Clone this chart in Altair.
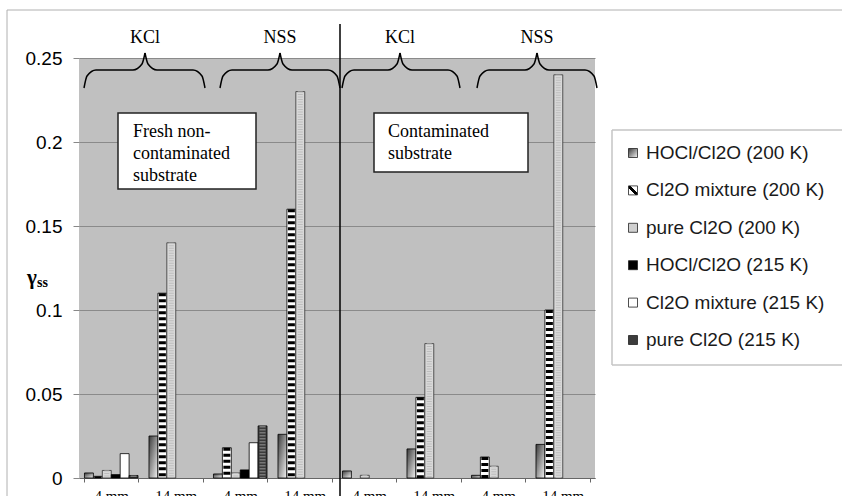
import altair as alt
import pandas as pd

# ---------------- data ----------------
categories = ["KCl fresh|4 mm", "KCl fresh|14 mm", "NSS fresh|4 mm", "NSS fresh|14 mm",
              "KCl contam|4 mm", "KCl contam|14 mm", "NSS contam|4 mm", "NSS contam|14 mm"]
series_names = ["HOCl/Cl2O (200 K)", "Cl2O mixture (200 K)", "pure Cl2O (200 K)",
                "HOCl/Cl2O (215 K)", "Cl2O mixture (215 K)", "pure Cl2O (215 K)"]
hocl_200 = [0.003, 0.025, 0.0024, 0.026, 0.0042, 0.0173, 0.0016, 0.020]
mix_200 = [0.001, 0.110, 0.018, 0.160, None, 0.048, 0.0125, 0.100]
pure_200 = [0.0045, 0.140, 0.003, 0.230, 0.0016, 0.080, 0.007, 0.240]
hocl_215 = [0.002, None, 0.0048, None, None, None, None, None]
mix_215 = [0.0145, None, 0.021, None, None, None, None, None]
pure_215 = [0.0015, None, 0.031, None, None, None, None, None]
y_ticks = [0, 0.05, 0.1, 0.15, 0.2, 0.25]

series_values = [hocl_200, mix_200, pure_200, hocl_215, mix_215, pure_215]
rows = []
for s, vals in zip(series_names, series_values):
    for c, v in zip(categories, vals):
        if v is not None:
            rows.append({"cat": c, "series": s, "value": v})
df = pd.DataFrame(rows)
leg_df = pd.DataFrame({"series": series_names})
one = pd.DataFrame({"a": [0]})

SERIF = "Liberation Serif"
SANS = "Liberation Sans"

# ---------------- bars ----------------
xscale = alt.Scale(domain=categories, paddingInner=0.17, paddingOuter=0.085)
xaxis = alt.Axis(labelExpr="split(datum.value, '|')[1]", labelFont=SERIF, labelFontSize=15,
                 labelColor="black", labelPadding=6, labelAngle=0, tickBand="extent",
                 tickSize=4, tickColor="#666", domainColor="#666", domainWidth=1.2, grid=False)
yaxis = alt.Axis(values=y_ticks, format=".2~f", labelFont=SANS, labelFontSize=19,
                 labelColor="black", labelPadding=11, tickSize=6, tickColor="#888",
                 domain=False, grid=True, gridColor="#8a8a8a", gridWidth=1)
X = alt.X("cat:N", scale=xscale, axis=xaxis, title=None)
XO = alt.XOffset("series:N", scale=alt.Scale(domain=series_names, paddingInner=0, paddingOuter=0))
Y = alt.Y("value:Q", scale=alt.Scale(domain=[0, 0.25], nice=False), axis=yaxis, title=None)

grad_hocl = alt.Gradient(gradient="linear",
                         stops=[alt.GradientStop(color="#3a3a3a", offset=0),
                                alt.GradientStop(color="#f4f4f4", offset=1)],
                         x1=0, y1=0, x2=1, y2=1)


def series_chart(s):
    return alt.Chart(df).transform_filter(alt.datum.series == s)


bar_layers = [
    series_chart(series_names[0]).mark_bar(fill=grad_hocl, stroke="black", strokeWidth=0.8).encode(x=X, xOffset=XO, y=Y),
    series_chart(series_names[1]).mark_bar(fill="white", stroke="black", strokeWidth=0.8).encode(x=X, xOffset=XO, y=Y),
    series_chart(series_names[1]).mark_rule(stroke="black", strokeWidth=7, strokeDash=[3, 3]).encode(
        x=X, xOffset=XO, y=Y, y2=alt.datum(0)),
    series_chart(series_names[2]).mark_bar(fill="#d8d8d8", stroke="#333", strokeWidth=0.8).encode(x=X, xOffset=XO, y=Y),
    series_chart(series_names[2]).mark_rule(stroke="#bdbdbd", strokeWidth=5, strokeDash=[1, 1.5]).encode(
        x=X, xOffset=XO, y=Y, y2=alt.datum(0)),
    series_chart(series_names[3]).mark_bar(fill="black", stroke="black", strokeWidth=0.8).encode(x=X, xOffset=XO, y=Y),
    series_chart(series_names[4]).mark_bar(fill="white", stroke="black", strokeWidth=0.8).encode(x=X, xOffset=XO, y=Y),
    series_chart(series_names[5]).mark_bar(fill="#3c3c3c", stroke="black", strokeWidth=0.8).encode(x=X, xOffset=XO, y=Y),
    series_chart(series_names[5]).mark_rule(stroke="#777", strokeWidth=6, strokeDash=[1.5, 1.5]).encode(
        x=X, xOffset=XO, y=Y, y2=alt.datum(0)),
]
bars_group = alt.layer(*bar_layers)

# ---------------- legend ----------------
OX, OY = 79, 58  # plot origin in page pixels
LY = alt.Y("series:N", scale=alt.Scale(domain=series_names, range=[95, 282], padding=0), axis=None, title=None)
grad_mix_leg = alt.Gradient(gradient="linear",
                            stops=[alt.GradientStop(color="white", offset=0),
                                   alt.GradientStop(color="white", offset=0.38),
                                   alt.GradientStop(color="black", offset=0.38),
                                   alt.GradientStop(color="black", offset=0.62),
                                   alt.GradientStop(color="white", offset=0.62),
                                   alt.GradientStop(color="white", offset=1)],
                            x1=1, y1=0, x2=0, y2=1)
leg_fills = [grad_hocl, grad_mix_leg, "#d0d0d0", "black", "white", "#3c3c3c"]


def hline(x0, x1, y, **kw):
    return alt.Chart(one).mark_rule(**kw).encode(
        x=alt.value(x0 - OX), x2=alt.value(x1 - OX), y=alt.value(y - OY))


def vline(x, y0, y1, **kw):
    return alt.Chart(one).mark_rule(**kw).encode(
        x=alt.value(x - OX), y=alt.value(y0 - OY), y2=alt.value(y1 - OY))


def box(x0, y0, x1, y1, **kw):
    return alt.Chart(one).mark_rect(**kw).encode(
        x=alt.value(x0 - OX), x2=alt.value(x1 - OX), y=alt.value(y0 - OY), y2=alt.value(y1 - OY))


legend_layers = [
    box(612, 130, 842, 365, fill="white", strokeWidth=0),
    hline(612, 842, 130, stroke="#c4c4c4", strokeWidth=1.5),
    hline(612, 842, 365, stroke="#c4c4c4", strokeWidth=1.5),
    vline(612, 130, 365, stroke="#c4c4c4", strokeWidth=1.5),
]
for s, f in zip(series_names, leg_fills):
    legend_layers.append(
        alt.Chart(leg_df).transform_filter(alt.datum.series == s).mark_square(
            size=81, fill=f, filled=True, stroke="#222", strokeWidth=0.8, opacity=1).encode(
            x=alt.value(554), y=LY))
legend_layers.append(
    alt.Chart(leg_df).mark_text(align="left", baseline="middle", font=SANS, fontSize=19,
                                color="#1a1a1a").encode(x=alt.value(567), y=LY, text="series:N"))
legend_group = alt.layer(*legend_layers)

# ---------------- annotations ----------------
brace_spans = [(84, 145, 205), (220, 280, 340), (342, 400, 460), (477, 537, 597)]
brace_rows = []
for i, (x0, xm, x1) in enumerate(brace_spans):
    left = [(x0, 88), (x0 + 3, 76), (x0 + 12, 70), (xm - 12, 70), (xm - 3, 64), (xm, 53)]
    right = [(xm, 53), (xm + 3, 64), (xm + 12, 70), (x1 - 12, 70), (x1 - 3, 76), (x1, 88)]
    for half, pts in (("L", left), ("R", right)):
        for k, (px, py) in enumerate(pts):
            brace_rows.append({"grp": f"{i}{half}", "ord": k, "px": px - OX, "py": py - OY})
brace_df = pd.DataFrame(brace_rows)


def txt(t, x, y, **kw):
    return alt.Chart(one).mark_text(text=t, **kw).encode(x=alt.value(x - OX), y=alt.value(y - OY))


serif_kw = dict(font=SERIF, fontSize=18, color="black", align="left", baseline="alphabetic")
annot_layers = [
    hline(7, 842, 10, stroke="#b0b0b0", strokeWidth=1),
    vline(7, 10, 503, stroke="#b0b0b0", strokeWidth=1),
    alt.Chart(brace_df).mark_line(interpolate="monotone", stroke="black", strokeWidth=1.5).encode(
        x=alt.X("px:Q", scale=None), y=alt.Y("py:Q", scale=None), detail="grp:N", order="ord:Q"),
    vline(340, 24, 503, stroke="black", strokeWidth=1.5),
    box(118, 113, 256, 189, fill="white", stroke="#222", strokeWidth=1.5),
    box(374, 113, 528, 172, fill="white", stroke="#222", strokeWidth=1.5),
    txt("Fresh non-", 133, 137, **serif_kw),
    txt("contaminated", 133, 159, **serif_kw),
    txt("substrate", 133, 181, **serif_kw),
    txt("Contaminated", 388, 137, **serif_kw),
    txt("substrate", 388, 159, **serif_kw),
    txt("γ", 27, 284, font=SERIF, fontSize=21, fontWeight="bold", color="black", align="left", baseline="alphabetic"),
    txt("ss", 37, 287, font=SERIF, fontSize=14, fontWeight="bold", color="black", align="left", baseline="alphabetic"),
]
for lab, xc in zip(["KCl", "NSS", "KCl", "NSS"], [145, 280, 400, 537]):
    annot_layers.append(txt(lab, xc, 38, font=SERIF, fontSize=18, color="black", align="center", baseline="middle"))
annot_group = alt.layer(*annot_layers)

chart = alt.layer(bars_group, legend_group, annot_group).resolve_scale(
    x="independent", y="independent"
).properties(
    width=516, height=420,
    autosize=alt.AutoSizeParams(type="none"),
    padding={"left": 79, "top": 58, "right": 247, "bottom": 18},
).configure(background="white").configure_view(fill="#c0c0c0", stroke=None)

chart.save("out.html", embed_options={"renderer": "svg", "actions": False})
